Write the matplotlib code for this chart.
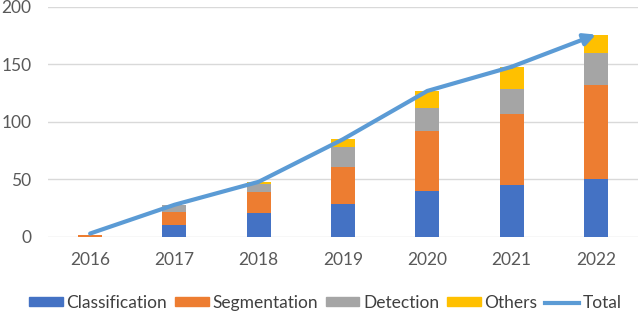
import matplotlib.pyplot as plt
from matplotlib.lines import Line2D
from matplotlib.patches import Patch

# Data
years = ['2016', '2017', '2018', '2019', '2020', '2021', '2022']
classification = [0, 10, 21, 29, 40, 45, 50]
segmentation = [2, 12, 18, 32, 52, 62, 82]
detection = [0, 6, 7, 17, 20, 22, 28]
others = [0, 0, 2, 7, 15, 19, 16]
total = [3, 28, 48, 85, 127, 148, 176]

colors = ['#4472C4', '#ED7D31', '#A5A5A5', '#FFC000']
names = ['Classification', 'Segmentation', 'Detection', 'Others']
line_color = '#5B9BD5'

plt.rcParams['font.family'] = ['Lato', 'DejaVu Sans']

fig = plt.figure(figsize=(6.4, 3.11), dpi=100)
ax = fig.add_axes([0.075, 0.238, 0.922, 0.7395])

x = list(range(len(years)))
bottom = [0] * len(years)
for vals, c in zip([classification, segmentation, detection, others], colors):
    ax.bar(x, vals, width=0.285, bottom=bottom, color=c, zorder=2)
    bottom = [b + v for b, v in zip(bottom, vals)]

# total line, last segment ends in an arrow head
ax.plot(x[:-1], total[:-1], color=line_color, lw=3, solid_capstyle='round', zorder=3)
ax.annotate('', xy=(x[-1], total[-1]), xytext=(x[-2], total[-2]),
            arrowprops=dict(arrowstyle='-|>,head_length=0.7,head_width=0.35',
                            color=line_color, lw=3, shrinkA=0, shrinkB=0),
            zorder=4)

ax.set_xlim(-0.5, 6.5)
ax.set_ylim(0, 200)
ax.set_yticks([0, 50, 100, 150, 200])
ax.set_xticks(x)
ax.set_xticklabels(years)
ax.yaxis.grid(True, color='#D9D9D9', lw=1, zorder=0)
ax.set_axisbelow(True)
for s in ax.spines.values():
    s.set_visible(False)
ax.tick_params(length=0, labelsize=12.5, colors='#595959')
ax.tick_params(axis='x', pad=11)
ax.tick_params(axis='y', pad=12)

handles = [Patch(color=c) for c in colors] + [Line2D([0], [0], color=line_color, lw=3)]
fig.legend(handles, names + ['Total'], loc='center', bbox_to_anchor=(0.508, 0.026),
           ncol=5, frameon=False, fontsize=12.5, handlelength=1.95, handleheight=0.4,
           handletextpad=0.2, columnspacing=0.45, labelcolor='#404040',
           borderpad=0, borderaxespad=0)

fig.savefig('out.png', dpi=100)
